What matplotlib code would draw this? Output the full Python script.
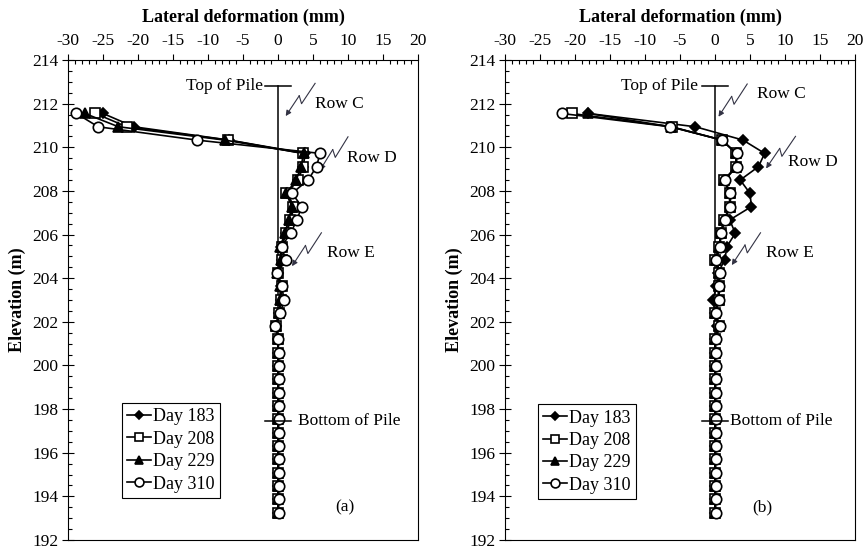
import numpy as np
import matplotlib
matplotlib.use("Agg")
import matplotlib.pyplot as plt
from matplotlib.ticker import MultipleLocator

plt.rcParams['font.family'] = ['Liberation Serif', 'DejaVu Serif']
plt.rcParams['axes.unicode_minus'] = False

# inclinometer reading elevations (m), 2 ft spacing
elev = [211.55, 210.94, 210.33, 209.72, 209.11, 208.50, 207.89, 207.28, 206.67,
        206.06, 205.45, 204.84, 204.23, 203.62, 203.01, 202.40, 201.80, 201.19,
        200.58, 199.97, 199.36, 198.75, 198.14, 197.53, 196.92, 196.31, 195.70,
        195.09, 194.48, 193.87, 193.26]

# panel (a) lateral deformation (mm)
d183_a = [-25.0, -20.6, -7.0, 3.9, 3.6, 2.8, 1.3, 2.3, 1.8, 1.2, 0.4, 0.5, 0.0, 0.4, 0.4, 0.2,
          -0.3, 0.0, 0.0, 0.0, 0.0, 0.0, 0.0, 0.0, 0.0, 0.0, 0.0, 0.0, 0.0, 0.0, 0.0]
d208_a = [-26.1, -21.6, -7.1, 3.5, 3.5, 2.9, 1.1, 2.1, 1.7, 1.2, 0.5, 0.6, 0.0, 0.5, 0.4, 0.2,
          -0.3, 0.0, 0.0, 0.0, 0.0, 0.0, 0.0, 0.0, 0.0, 0.0, 0.0, 0.0, 0.0, 0.0, 0.0]
d229_a = [-27.6, -22.8, -7.6, 3.7, 3.3, 2.6, 1.2, 2.0, 1.5, 1.0, 0.3, 0.4, -0.1, 0.3, 0.3, 0.1,
          -0.3, 0.0, 0.0, 0.0, 0.0, 0.0, 0.0, 0.0, 0.0, 0.0, 0.0, 0.0, 0.0, 0.0, 0.0]
d310_a = [-28.8, -25.7, -11.6, 6.0, 5.5, 4.3, 2.0, 3.4, 2.7, 1.8, 0.5, 1.1, -0.1, 0.5, 0.9, 0.3,
          -0.4, 0.0, 0.1, 0.1, 0.1, 0.1, 0.1, 0.1, 0.1, 0.1, 0.1, 0.1, 0.1, 0.1, 0.1]

# panel (b)
d183_b = [-18.1, -2.8, 4.0, 7.1, 6.2, 3.6, 5.0, 5.2, 2.1, 2.9, 1.7, 1.4, 0.4, 0.2, -0.3, 0.0,
          0.3, 0.0, 0.0, 0.0, 0.0, 0.0, 0.0, 0.0, 0.0, 0.0, 0.0, 0.0, 0.0, 0.0, 0.0]
d208_b = [-20.5, -6.2, 1.0, 3.0, 3.0, 1.3, 2.1, 2.1, 1.3, 0.8, 0.6, 0.0, 0.5, 0.5, 0.5, 0.0,
          0.6, 0.0, 0.0, 0.0, 0.0, 0.0, 0.0, 0.0, 0.0, 0.0, 0.0, 0.0, 0.0, 0.0, 0.0]
d229_b = [-18.1, -6.3, 1.0, 3.0, 3.0, 1.3, 2.1, 2.1, 1.3, 0.8, 0.6, 0.1, 0.6, 0.5, 0.5, 0.0,
          0.6, 0.0, 0.0, 0.0, 0.0, 0.0, 0.0, 0.0, 0.0, 0.0, 0.0, 0.0, 0.0, 0.0, 0.0]
d310_b = [-21.9, -6.4, 1.0, 3.1, 3.1, 1.4, 2.2, 2.2, 1.4, 0.9, 0.7, 0.2, 0.7, 0.6, 0.6, 0.1,
          0.7, 0.1, 0.1, 0.1, 0.1, 0.1, 0.1, 0.1, 0.1, 0.1, 0.1, 0.1, 0.1, 0.1, 0.1]

labels = ['Day 183', 'Day 208', 'Day 229', 'Day 310']
pile_top = 212.83
pile_bottom = 197.44

fig = plt.figure(figsize=(8.67, 5.49), dpi=100)
W, H = 867.0, 549.0
axA = fig.add_axes([68 / W, 9 / H, 350 / W, 480 / H])
axB = fig.add_axes([505 / W, 9 / H, 350 / W, 480 / H])

FS = 12.5


def bolt(ax, x0, y0, x1, y1):
    # lightning-style arrow drawn in display space
    t = ax.transData
    p0 = t.transform((x0, y0))
    p1 = t.transform((x1, y1))
    d = p1 - p0
    L = np.hypot(*d)
    n = np.array([-d[1], d[0]]) / L
    m1 = p0 + 0.55 * d + 0.08 * L * n
    m2 = p0 + 0.45 * d - 0.08 * L * n
    inv = t.inverted()
    pts = inv.transform(np.array([p0, m1, m2]))
    ax.plot(pts[:, 0], pts[:, 1], color='#333344', lw=0.8, zorder=3)
    e = inv.transform(p1)
    ax.annotate('', xy=(e[0], e[1]), xytext=(pts[2, 0], pts[2, 1]),
                arrowprops=dict(arrowstyle='-|>', color='#333344', lw=0.8,
                                mutation_scale=8, shrinkA=0, shrinkB=0), zorder=3)


def panel(ax, series, tag, txt):
    styles = [dict(marker='D', ms=5, mfc='black'),
              dict(marker='s', ms=6.5, mfc='white'),
              dict(marker='^', ms=7, mfc='black'),
              dict(marker='o', ms=7.5, mfc='white')]
    for vals, lab, st in zip(series, labels, styles):
        ax.plot(vals, elev, color='black', lw=1.2, mec='black', mew=1.2,
                label=lab, zorder=4, **st)

    # pile
    ax.plot([0, 0], [pile_top, pile_bottom], color='black', lw=1.1, zorder=2)
    ax.plot([-1.8, 1.8], [pile_top, pile_top], color='black', lw=1.1)
    ax.plot([-1.8, 1.8], [pile_bottom, pile_bottom], color='black', lw=1.1, zorder=5)
    ax.text(txt['top'][0], pile_top, 'Top of Pile', ha='right', va='center', fontsize=FS)
    ax.text(txt['bot'][0], pile_bottom, 'Bottom of Pile', ha='left', va='center', fontsize=FS)
    for k in ['C', 'D', 'E']:
        x, y = txt[k]
        ax.text(x, y, 'Row ' + k, ha='left', va='center', fontsize=FS)
    ax.text(txt['tag'][0], txt['tag'][1], tag, ha='center', va='center', fontsize=FS)

    ax.set_xlim(-30, 20)
    ax.set_ylim(192, 214)
    ax.xaxis.tick_top()
    ax.xaxis.set_label_position('top')
    ax.xaxis.set_major_locator(MultipleLocator(5))
    ax.xaxis.set_minor_locator(MultipleLocator(1))
    ax.yaxis.set_major_locator(MultipleLocator(2))
    ax.yaxis.set_minor_locator(MultipleLocator(0.5))
    ax.tick_params(axis='x', which='major', direction='out', length=4, width=0.8,
                   labelsize=12.5, pad=4)
    ax.tick_params(axis='x', which='minor', direction='in', length=3, width=0.8)
    ax.tick_params(axis='y', which='major', direction='inout', length=8, width=0.8,
                   labelsize=12.5, pad=3)
    ax.tick_params(axis='y', which='minor', direction='in', length=3, width=0.8)
    ax.set_xlabel('Lateral deformation (mm)', fontsize=13, fontweight='bold', labelpad=8)
    ax.set_ylabel('Elevation (m)', fontsize=13, fontweight='bold', labelpad=4)
    for s in ax.spines.values():
        s.set_linewidth(0.8)


panel(axA, [d183_a, d208_a, d229_a, d310_a], '(a)',
      {'top': (-2.2,), 'bot': (2.8,), 'C': (5.3, 212.0), 'D': (9.8, 209.5),
       'E': (7.0, 205.15), 'tag': (9.6, 193.5)})
panel(axB, [d183_b, d208_b, d229_b, d310_b], '(b)',
      {'top': (-2.4,), 'bot': (2.1,), 'C': (6.0, 212.45), 'D': (10.4, 209.33),
       'E': (7.3, 205.15), 'tag': (6.7, 193.5)})

bolt(axA, 5.3, 212.93, 1.1, 211.43)
bolt(axA, 10.0, 210.48, 6.0, 208.95)
bolt(axA, 6.2, 206.08, 2.0, 204.55)
bolt(axB, 4.6, 212.9, 0.5, 211.4)
bolt(axB, 11.5, 210.5, 7.3, 209.03)
bolt(axB, 6.5, 206.08, 2.4, 204.6)

for ax, loc in [(axA, (0.154, 0.0875)), (axB, (0.094, 0.085))]:
    leg = ax.legend(loc='lower left', bbox_to_anchor=loc, fontsize=13,
                    frameon=True, fancybox=False, edgecolor='black', framealpha=1,
                    handlelength=1.3, handletextpad=0.1, borderpad=0.3,
                    labelspacing=0.3, borderaxespad=0, markerscale=0.85)
    leg.get_frame().set_linewidth(0.8)

fig.savefig('out.png', dpi=100)
